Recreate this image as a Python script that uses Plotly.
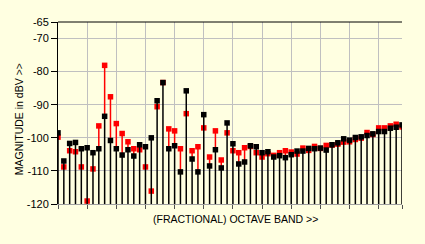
import plotly.graph_objects as go

bands = list(range(60))
black_vals = [-98.5, -107.0, -101.7, -101.4, -103.3, -103.0, -104.5, -103.3, -93.5, -100.8,
              -103.3, -105.2, -103.6, -105.5, -102.1, -102.7, -100.0, -88.8, -83.3, -103.3,
              -102.4, -110.3, -85.8, -106.4, -110.3, -93.0, -108.5, -103.6, -109.1, -95.5,
              -101.8, -107.9, -107.3, -102.4, -102.7, -104.5, -104.2, -105.8, -105.4, -106.0,
              -105.1, -104.0, -104.0, -103.2, -103.3, -103.1, -103.7, -102.1, -101.5, -100.3,
              -100.7, -99.9, -99.7, -99.3, -98.8, -98.1, -98.1, -97.1, -96.8, -96.1]
red_vals = [-99.8, -108.8, -103.9, -104.2, -108.8, -119.1, -109.4, -96.4, -78.1, -87.6,
            -95.7, -98.7, -101.2, -103.3, -103.6, -108.8, -116.1, -90.6, -83.3, -97.3,
            -97.9, -103.3, -92.7, -103.9, -102.7, -97.0, -105.8, -97.9, -106.7, -98.5,
            -103.9, -104.5, -103.0, -102.6, -104.5, -105.8, -104.8, -105.3, -104.5, -103.9,
            -104.3, -104.9, -103.1, -103.8, -102.6, -103.2, -102.3, -102.2, -101.9, -101.3,
            -101.2, -100.5, -100.1, -98.4, -99.0, -97.0, -97.0, -96.4, -95.9, -96.7]
y_base = -120
y_ticks = [-65, -70, -80, -90, -100, -110, -120]
x_ticks = [0, 5, 10, 15, 20, 25, 30, 35, 40, 45, 50, 55, 59]

BG = "#FFFFE1"
FONT = "Liberation Sans"


def stems(xs, ys, lows):
    sx, sy = [], []
    for x, y, lo in zip(xs, ys, lows):
        if y > lo:
            sx += [x, x, None]
            sy += [lo, y, None]
    return sx, sy


fig = go.Figure()
# red stems are visible only above the black stem
rsx, rsy = stems(bands, red_vals, black_vals)
fig.add_trace(go.Scatter(x=rsx, y=rsy, mode="lines",
                         line=dict(color="#FF0000", width=1.5), hoverinfo="skip"))
fig.add_trace(go.Scatter(x=bands, y=red_vals, mode="markers",
                         marker=dict(symbol="square", size=5.5, color="#FF0000",
                                     line=dict(width=0))))
bsx, bsy = stems(bands, black_vals, [y_base] * len(bands))
fig.add_trace(go.Scatter(x=bsx, y=bsy, mode="lines",
                         line=dict(color="#000000", width=1.5), hoverinfo="skip"))
fig.add_trace(go.Scatter(x=bands, y=black_vals, mode="markers",
                         marker=dict(symbol="square", size=5.5, color="#000000",
                                     line=dict(width=0))))

fig.update_layout(
    width=425, height=244,
    margin=dict(l=58, r=23, t=22, b=40),
    paper_bgcolor=BG, plot_bgcolor=BG,
    showlegend=False,
    font=dict(family=FONT, size=11, color="#000000"),
    xaxis=dict(range=[0, 59], tickvals=x_ticks, showticklabels=False,
               ticks="outside", ticklen=4, tickcolor="#505050", tickwidth=1,
               showgrid=True, gridcolor="#C0C0C0", gridwidth=1,
               showline=True, linecolor="#A0A0A0", linewidth=1,
               zeroline=False),
    yaxis=dict(range=[-120, -65], tickvals=y_ticks,
               ticktext=[str(v) for v in y_ticks],
               ticks="outside", ticklen=6, tickcolor="#000000", tickwidth=1,
               showgrid=True, gridcolor="#C0C0C0", gridwidth=1,
               showline=True, linecolor="#000000", linewidth=1,
               zeroline=False, tickfont=dict(family=FONT, size=11)),
    shapes=[dict(type="line", xref="paper", yref="paper", x0=0, x1=1, y0=1, y1=1,
                 line=dict(color="#000000", width=1))],
    annotations=[
        dict(text="MAGNITUDE in dBV >>", xref="paper", yref="paper",
             x=-0.113, y=0.467, textangle=-90, showarrow=False,
             xanchor="center", yanchor="middle",
             font=dict(family=FONT, size=10.5)),
        dict(text="(FRACTIONAL) OCTAVE BAND >>", xref="paper", yref="paper",
             x=0.516, y=-0.082, showarrow=False,
             xanchor="center", yanchor="middle",
             font=dict(family=FONT, size=10.5)),
    ],
)

fig.write_html("out.html")
